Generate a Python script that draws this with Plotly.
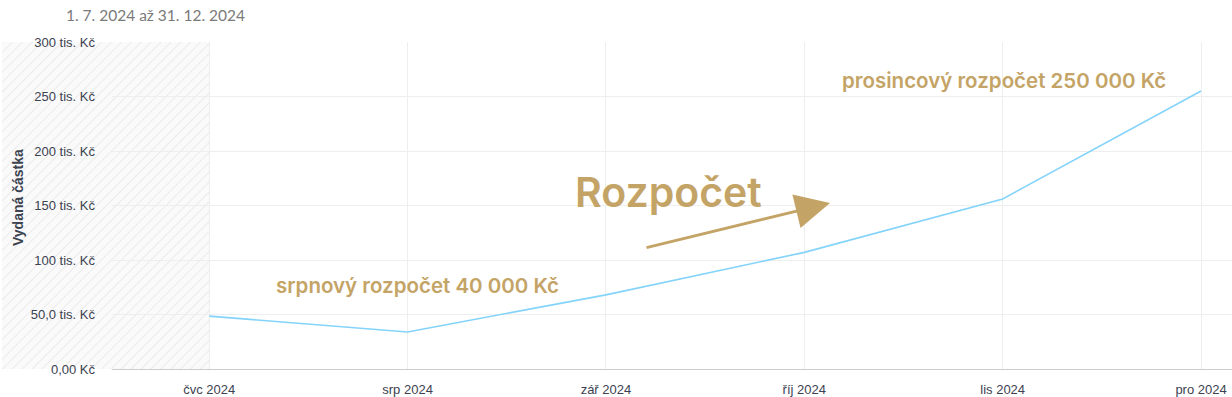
import base64
import plotly.graph_objects as go

# ---- data ----
months = ["čvc 2024", "srp 2024", "zář 2024", "říj 2024", "lis 2024", "pro 2024"]
spent = [48500, 34000, 68000, 107000, 156000, 255000]
y_tick_vals = [0, 50000, 100000, 150000, 200000, 250000, 300000]
y_tick_text = ["0,00 Kč", "50,0 tis. Kč", "100 tis. Kč", "150 tis. Kč", "200 tis. Kč", "250 tis. Kč", "300 tis. Kč"]
title_text = "1. 7. 2024 až 31. 12. 2024"
y_title = "Vydaná částka"
note_aug = "srpnový rozpočet 40 000 Kč"
note_dec = "prosincový rozpočet 250 000 Kč"
note_big = "Rozpočet"

W, H = 1232, 397
L, R, T, B = 112, 0, 42, 28
PW, PH = W - L - R, H - T - B

def px(x):
    return (x - L) / PW

def py(y):
    return (H - B - y) / PH

GOLD = "#c4a466"

# hatched background pattern (decoration)
hw, hh = 207, 327
svg = (
    f'<svg xmlns="http://www.w3.org/2000/svg" width="{hw}" height="{hh}">'
    '<defs><pattern id="p" width="7" height="7" patternUnits="userSpaceOnUse" patternTransform="rotate(45)">'
    '<rect width="7" height="7" fill="#fafafa"/>'
    '<line x1="0" y1="0" x2="0" y2="7" stroke="#ebebeb" stroke-width="2"/>'
    '</pattern></defs>'
    f'<rect width="{hw}" height="{hh}" fill="url(#p)"/></svg>'
)
src = "data:image/svg+xml;base64," + base64.b64encode(svg.encode()).decode()

fig = go.Figure()
fig.add_trace(go.Scatter(
    x=months, y=spent, mode="lines",
    line=dict(color="#84d3fb", width=1.6),
    hoverinfo="skip", showlegend=False,
))

fig.add_layout_image(dict(
    source=src, xref="paper", yref="paper",
    x=px(2), y=1.0, sizex=hw / PW, sizey=hh / PH,
    xanchor="left", yanchor="top", sizing="stretch", layer="below",
))

tick_font = dict(family="Liberation Sans, Arial, sans-serif", size=13, color="#3c4250")
ann_font = "Inter, sans-serif"

fig.update_layout(
    width=W, height=H,
    margin=dict(l=L, r=R, t=T, b=B, autoexpand=False),
    paper_bgcolor="white", plot_bgcolor="rgba(0,0,0,0)",
    xaxis=dict(
        type="category", range=[-0.49, 5.156],
        showgrid=True, gridcolor="#eeeeee", gridwidth=1,
        showline=True, linecolor="#cccccc", linewidth=1,
        ticks="", tickfont=tick_font, ticklabelstandoff=8,
        zeroline=False, fixedrange=True,
    ),
    yaxis=dict(
        range=[0, 300000], tickvals=y_tick_vals, ticktext=y_tick_text,
        showgrid=True, gridcolor="#eeeeee", gridwidth=1,
        zeroline=False, showline=False, ticks="",
        tickfont=tick_font, ticklabelstandoff=16, fixedrange=True,
    ),
    annotations=[
        dict(text=title_text, xref="paper", yref="paper", x=px(64), y=py(15),
             xanchor="left", yanchor="middle", showarrow=False,
             font=dict(family="Lato, sans-serif", size=15.5, color="#7a7a7a")),
        dict(text=f"<b>{y_title}</b>", xref="paper", yref="paper", x=px(18), y=py(198),
             xanchor="center", yanchor="middle", showarrow=False, textangle=-90,
             font=dict(family="Liberation Sans, Arial, sans-serif", size=14, color="#3c4250")),
        dict(text=note_aug, xref="paper", yref="paper", x=px(418), y=py(285),
             xanchor="center", yanchor="middle", showarrow=False,
             font=dict(family=ann_font, size=20.5, color=GOLD, weight=600)),
        dict(text=note_dec, xref="paper", yref="paper", x=px(1004), y=py(81),
             xanchor="center", yanchor="middle", showarrow=False,
             font=dict(family=ann_font, size=20.5, color=GOLD, weight=600)),
        dict(text=note_big, xref="paper", yref="paper", x=px(668), y=py(192),
             xanchor="center", yanchor="middle", showarrow=False,
             font=dict(family=ann_font, size=41, color=GOLD, weight=600)),
        dict(text="", xref="paper", yref="paper", x=px(830), y=py(203),
             ax=645 - 830, ay=248 - 203, axref="pixel", ayref="pixel",
             showarrow=True, arrowhead=2, arrowsize=2.3, arrowwidth=3,
             arrowcolor=GOLD, standoff=0),
    ],
)

fig.write_html("out.html", config={"displayModeBar": False},
               post_script="document.body.style.margin='0px';")
